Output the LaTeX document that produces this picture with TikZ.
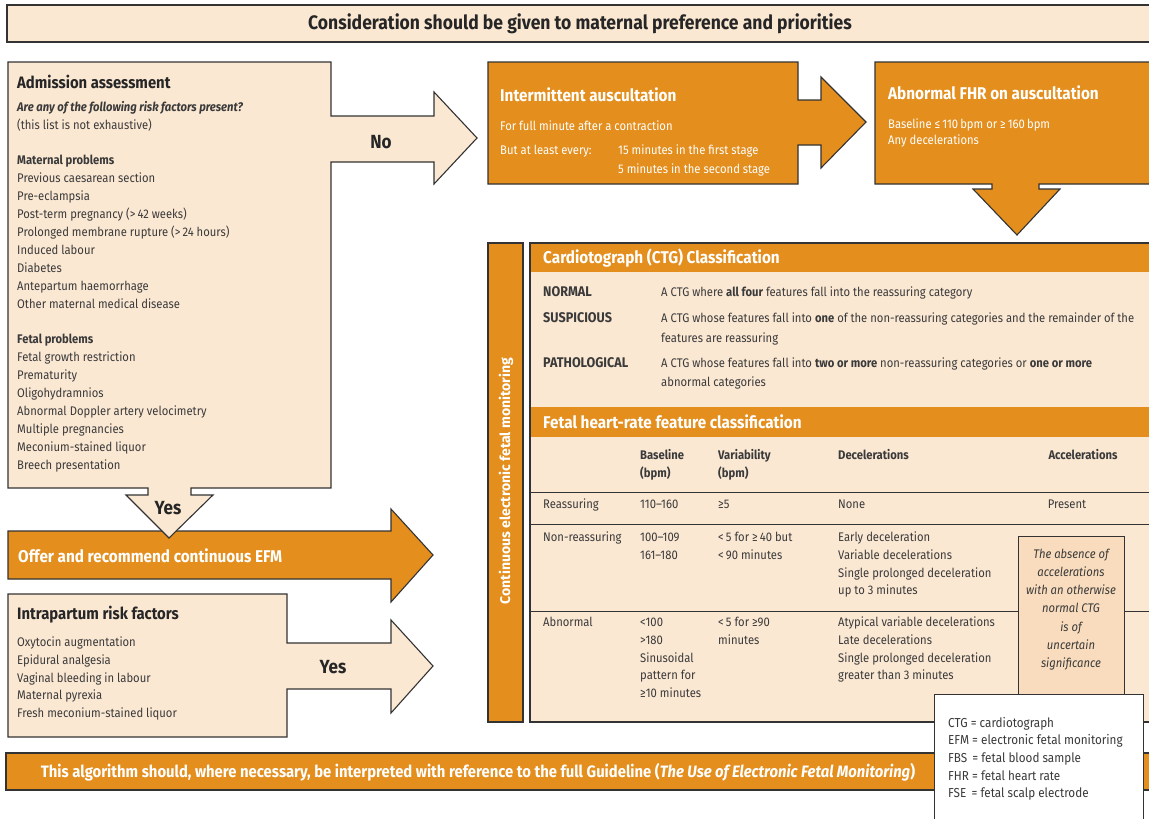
\documentclass[tikz,border=0pt]{standalone}
\usepackage{fontspec}
\setmainfont{Fira Sans}[FakeStretch=0.9]
\newfontfamily\widesans{Fira Sans}
\usetikzlibrary{positioning}
\definecolor{efmorange}{HTML}{E38E1D}
\definecolor{peach}{HTML}{FBE8D3}
\definecolor{peachdark}{HTML}{F8DCBD}
\definecolor{edgegray}{HTML}{333333}
\definecolor{ink}{HTML}{3A3A3A}
\begin{document}
\begin{tikzpicture}[x=1pt,y=-1pt]

      \tikzset{pbox/.style={draw=edgegray, line width=1.1pt, fill=peach},
               obox/.style={draw=edgegray, line width=1.1pt, fill=efmorange},
               txt/.style={inner sep=0pt, anchor=base west, text=ink, align=left, font=\fontsize{12.5}{17.9}\selectfont},
               ml/.style={txt, anchor=north west},
               wtxt/.style={txt, text=white},
               head/.style={txt, text=black!85, font=\bfseries\fontsize{16.5}{20}\selectfont},
               whead/.style={head, text=white, font=\bfseries\fontsize{17}{20}\selectfont},
               label/.style={txt, font=\bfseries\fontsize{14}{18}\selectfont},
               rowline/.style={draw=edgegray, line width=1pt}}
      \useasboundingbox (0,0) rectangle (1149,819);
      \clip (0,0) rectangle (1149,819);
% Banners
      	\draw[pbox] (7,5) rectangle (1170,42);
      	\node[head, anchor=base, font=\bfseries\fontsize{19.5}{22}\selectfont] (pref) at (580,29) {Consideration should be given to maternal preference and priorities};
      	\draw[obox] (6,753) rectangle (1170,790);
      	\node[whead, anchor=base, font=\bfseries\fontsize{16.5}{18}\selectfont] (guide) at (478,777) {This algorithm should, where necessary, be interpreted with reference to the full Guideline (\textit{The Use of Electronic Fetal Monitoring})};
% Left column
      	\draw[obox] (8,531) -- (391,531) -- (391,509) -- (433,555) -- (391,602) -- (391,579) -- (8,579) -- cycle;
      	\node[whead] (offer) at (18,562) {Offer and recommend continuous EFM};
      	\draw[pbox] (8,62) -- (331,62) -- (331,116) -- (434,116) -- (434,92) -- (477,138) -- (434,184) -- (434,162) -- (331,162) -- (331,488) -- (191,488) -- (191,495) -- (213,495) -- (169,538) -- (126,495) -- (148,495) -- (148,488) -- (8,488) -- cycle;
      	\node[head] (adm) at (17,88) {Admission assessment};
      	\node[ml] (risk) at (17,98.5) {\strut\textbf{\textit{Are any of the following risk factors present?}}\\(this list is not exhaustive)\\[17.9pt]
      	  \textbf{Maternal problems}\\Previous caesarean section\\Pre-eclampsia\\Post-term pregnancy (>\,42 weeks)\\Prolonged membrane rupture (>\,24 hours)\\Induced labour\\Diabetes\\Antepartum haemorrhage\\Other maternal medical disease\\[17.9pt]
      	  \textbf{Fetal problems}\\Fetal growth restriction\\Prematurity\\Oligohydramnios\\Abnormal Doppler artery velocimetry\\Multiple pregnancies\\Meconium-stained liquor\\Breech presentation};
      	\node[head, anchor=base, font=\bfseries\fontsize{19}{20}\selectfont] (no) at (381,148) {No};
      	\node[head, anchor=base, font=\bfseries\fontsize{19}{20}\selectfont] (yes1) at (168,514) {Yes};
      	\draw[pbox] (8,594) -- (287,594) -- (287,643) -- (391,643) -- (391,620) -- (433,666) -- (391,713) -- (391,689) -- (287,689) -- (287,737) -- (8,737) -- cycle;
      	\node[head] (intra) at (17,619) {Intrapartum risk factors};
      	\node[ml] (intralist) at (17,633.5) {\strut Oxytocin augmentation\\Epidural analgesia\\Vaginal bleeding in labour\\Maternal pyrexia\\Fresh meconium-stained liquor};
      	\node[head, anchor=base, font=\bfseries\fontsize{19}{20}\selectfont] (yes2) at (333,673) {Yes};
% Auscultation
      	\draw[obox] (488,62) -- (798,62) -- (798,100) -- (821,100) -- (821,77) -- (866,122) -- (821,168) -- (821,145) -- (798,145) -- (798,184) -- (488,184) -- cycle;
      	\node[whead] (ia) at (500,101) {Intermittent auscultation};
      	\node[wtxt] (iafull) at (500,130) {For full minute after a contraction};
      	\node[wtxt] (iaevery) at (500,154) {But at least every:};
      	\node[ml, text=white, font=\fontsize{12.5}{19}\selectfont] (iastage) at (618,140.7) {\strut 15 minutes in the first stage\\5 minutes in the second stage};
      	\draw[obox] (875,62) -- (1170,62) -- (1170,184) -- (1039,184) -- (1039,189) -- (1060,189) -- (1017,235) -- (973,189) -- (992,189) -- (992,184) -- (875,184) -- cycle;
      	\node[whead] (afhr) at (888,99) {Abnormal FHR on auscultation};
      	\node[ml, text=white, font=\fontsize{12.5}{16}\selectfont] (afhrlist) at (888,116.8) {\strut Baseline ≤\,110\,bpm or ≥\,160\,bpm\\Any decelerations};
% Continuous EFM
      	\draw[obox] (488,243) rectangle (523,722);
      	\node[wtxt, anchor=center, rotate=90, font=\widesans\bfseries\fontsize{14}{16}\selectfont] (cefm) at (506,481) {Continuous electronic fetal monitoring};
      	\fill[peach] (530,243) rectangle (1170,722);
      	\fill[efmorange] (530,243) rectangle (1170,272);
      	\fill[efmorange] (530,407) rectangle (1170,437);
      	\path[rowline] (530,492) -- (1170,492);
      	\path[rowline] (530,524) -- (1170,524);
      	\path[rowline] (530,611) -- (1170,611);
      	\draw[draw=edgegray, line width=1.1pt] (530,243) rectangle (1170,722);
      	\node[whead] (ctg) at (543,263) {Cardiotograph (CTG) Classification};
      	\node[label] (normal) at (543,296) {NORMAL};
      	\node[txt] (normaldef) at (661,296) {A CTG where \textbf{all four} features fall into the reassuring category};
      	\node[label] (susp) at (543,322) {SUSPICIOUS};
      	\node[ml, font=\fontsize{12.5}{20}\selectfont] (suspdef) at (661,308) {\strut A CTG whose features fall into \textbf{one} of the non-reassuring categories and the remainder of the\\features are reassuring};
      	\node[label] (path) at (543,367) {PATHOLOGICAL};
      	\node[ml, font=\fontsize{12.5}{19}\selectfont] (pathdef) at (661,353.7) {\strut A CTG whose features fall into \textbf{two or more} non-reassuring categories or \textbf{one or more}\\abnormal categories};
      	\node[whead] (fhr) at (543,428) {Fetal heart-rate feature classification};
% Feature table
      	\node[ml, font=\bfseries\fontsize{12.5}{18}\selectfont] (hbase) at (640,446.4) {\strut Baseline\\(bpm)};
      	\node[ml, font=\bfseries\fontsize{12.5}{18}\selectfont] (hvar) at (718,446.4) {\strut Variability\\(bpm)};
      	\node[txt, font=\bfseries\fontsize{12.5}{18}\selectfont] (hdec) at (838,459) {Decelerations};
      	\node[txt, anchor=base, font=\bfseries\fontsize{12.5}{18}\selectfont] (hacc) at (1083,459) {Accelerations};
      	\node[txt] (reas) at (543,508) {Reassuring};
      	\node[txt] (reasbase) at (640,508) {110--160};
      	\node[txt] (reasvar) at (718,508) {≥5};
      	\node[txt] (reasdec) at (838,508) {None};
      	\node[txt, anchor=base] (reasacc) at (1067,508) {Present};
      	\node[txt] (nonr) at (543,541) {Non-reassuring};
      	\node[ml] (nonrbase) at (640,528.5) {\strut 100--109\\161--180};
      	\node[ml] (nonrvar) at (718,528.5) {\strut <\,5 for ≥\,40 but\\<\,90 minutes};
      	\node[ml] (nonrdec) at (838,528.5) {\strut Early deceleration\\Variable decelerations\\Single prolonged deceleration\\up to 3 minutes};
      	\node[txt] (abn) at (543,626) {Abnormal};
      	\node[ml] (abnbase) at (640,613.5) {\strut <100\\>180\\Sinusoidal\\pattern for\\≥10 minutes};
      	\node[ml] (abnvar) at (718,613.5) {\strut <\,5 for ≥90\\minutes};
      	\node[ml] (abndec) at (838,613.5) {\strut Atypical variable decelerations\\Late decelerations\\Single prolonged deceleration\\greater than 3 minutes};
      	\draw[draw=edgegray, line width=1pt, fill=peachdark] (1018,536) rectangle (1124,695);
      	\node[ml, anchor=north, align=center, font=\itshape\fontsize{12.5}{18.2}\selectfont] (absence) at (1071,545.3) {\strut The absence of\\accelerations\\with an otherwise\\normal CTG\\is of\\uncertain\\significance};
% Abbreviations
      	\draw[draw=edgegray, line width=1pt, fill=white] (934,694) rectangle (1143,840);
      	\node[ml, font=\fontsize{13}{17.6}\selectfont] (abbr) at (948,714.7) {\strut CTG = cardiotograph\\EFM = electronic fetal monitoring\\FBS\ \,= fetal blood sample\\FHR = fetal heart rate\\FSE\ \,= fetal scalp electrode};

	\end{tikzpicture}
\end{document}
